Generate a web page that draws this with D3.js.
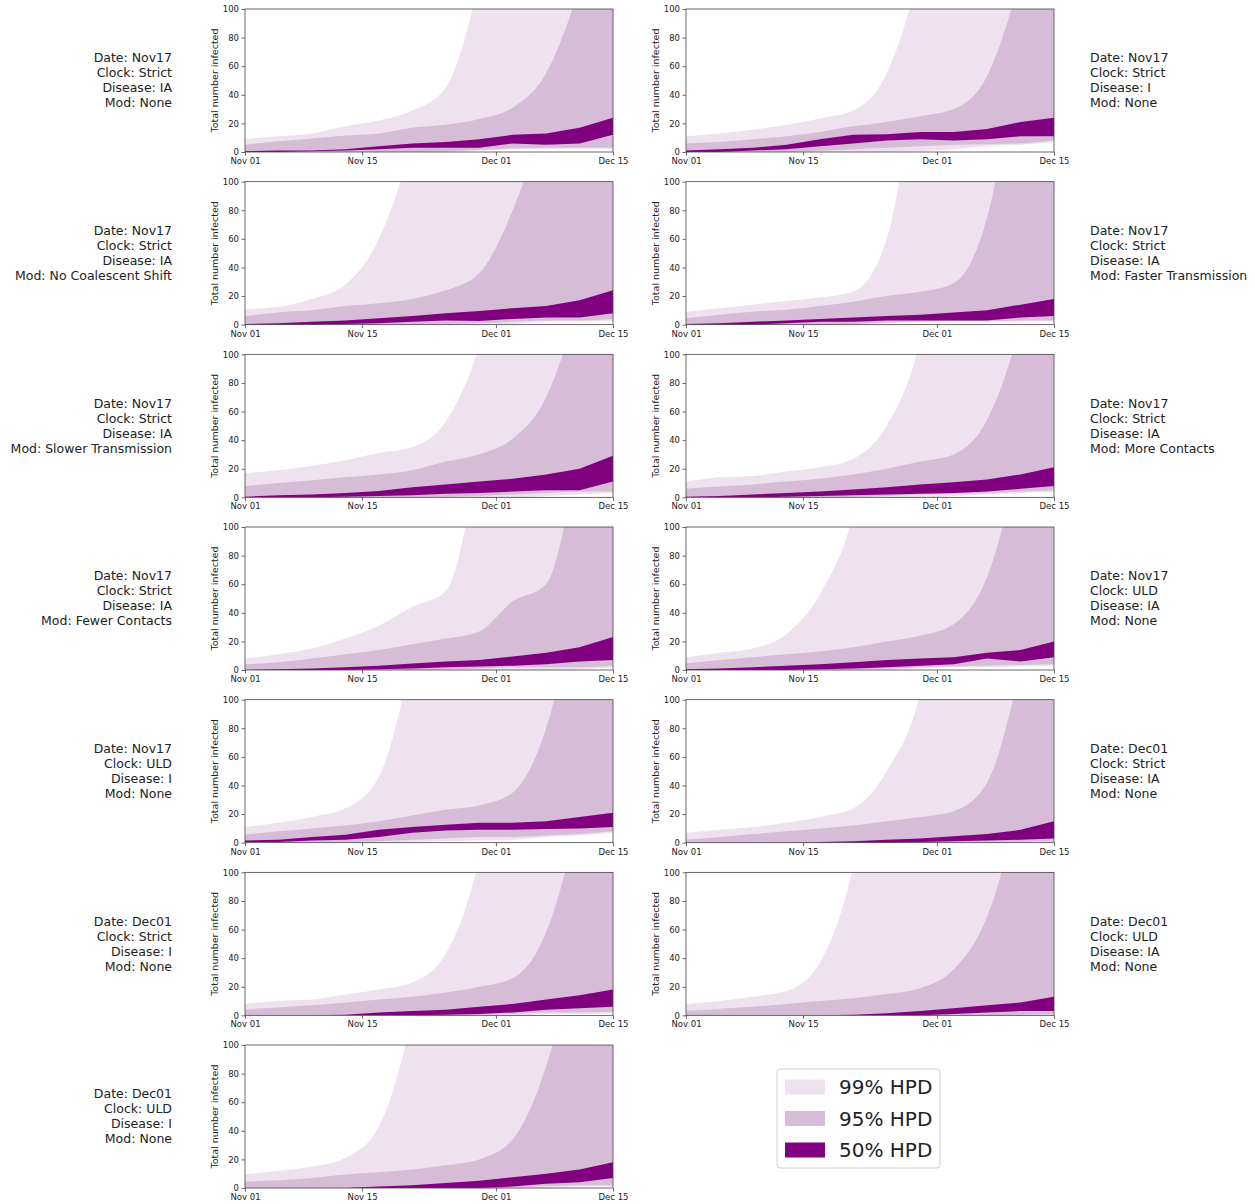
<!DOCTYPE html>
<html>
<head>
<meta charset="utf-8">
<script src="https://cdn.jsdelivr.net/npm/d3@7"></script>
<style>
  body { margin: 0; background: #fff; }
  svg text { font-family: "DejaVu Sans", sans-serif; fill: #222; }
  .tick text { font-size: 8.5px; }
</style>
</head>
<body>
<svg id="chart" width="1255" height="1204"></svg>
<script>
'use strict'

// sampled days since Nov 01 (every 4 days)
var days = [0, 4, 8, 12, 16, 20, 24, 28, 32, 36, 40, 44];
var dayTicks = [0, 14, 30, 44];
var dayTickLabels = ['Nov 01', 'Nov 15', 'Dec 01', 'Dec 15'];
var yTicks = [0, 20, 40, 60, 80, 100];

var panelLabels = [
  ['Date: Nov17', 'Clock: Strict', 'Disease: IA', 'Mod: None'],
  ['Date: Nov17', 'Clock: Strict', 'Disease: I', 'Mod: None'],
  ['Date: Nov17', 'Clock: Strict', 'Disease: IA', 'Mod: No Coalescent Shift'],
  ['Date: Nov17', 'Clock: Strict', 'Disease: IA', 'Mod: Faster Transmission'],
  ['Date: Nov17', 'Clock: Strict', 'Disease: IA', 'Mod: Slower Transmission'],
  ['Date: Nov17', 'Clock: Strict', 'Disease: IA', 'Mod: More Contacts'],
  ['Date: Nov17', 'Clock: Strict', 'Disease: IA', 'Mod: Fewer Contacts'],
  ['Date: Nov17', 'Clock: ULD', 'Disease: IA', 'Mod: None'],
  ['Date: Nov17', 'Clock: ULD', 'Disease: I', 'Mod: None'],
  ['Date: Dec01', 'Clock: Strict', 'Disease: IA', 'Mod: None'],
  ['Date: Dec01', 'Clock: Strict', 'Disease: I', 'Mod: None'],
  ['Date: Dec01', 'Clock: ULD', 'Disease: IA', 'Mod: None'],
  ['Date: Dec01', 'Clock: ULD', 'Disease: I', 'Mod: None']
];

var lower99 = [
  [0,0,0,0,0,0,0,1,2,2,2.5,2.5],
  [0,0,0,0,0,0,0,0.5,2,4,5,7],
  [0,0,0,0,0,0,0,0,0.5,2,2,2.5],
  [0,0,0,0,0,0,1,2,2,2,2,2.5],
  [0,0,0,0,0,0,0,0,0,1,2,3],
  [0,0,0,0,0,0,0,0,1,2,3,3.5],
  [0,0,0,0,0,0,0,0,0,0,0.5,2],
  [0,0,0,0,0,0,0,1,2,2,2.5,3],
  [0,0,0,0,0,0.5,1,1.5,2,4,5,7],
  [0,0,0,0,0,0,0,0,0,0,0,0.5],
  [0,0,0,0,0,0,0,0,0,1,1,1.5],
  [0,0,0,0,0,0,0,0,0,0,0,0],
  [0,0,0,0,0,0,0,0,0,0,1,1]
];
var upper99 = [
  [9,11,13,18,22,29,45,120,250,400,600,800],
  [11,13,15.5,19,23.5,29,55,130,260,400,600,800],
  [11,12.5,18,28,60,130,250,400,600,800,1000,1200],
  [9,11.5,14,16.5,19,23,60,200,400,600,800,1000],
  [17,19,22,26,31,35,53,105,200,350,500,700],
  [11,14,15,18,21,27,50,110,250,400,600,800],
  [8,11,15,22,31,44,55,150,300,500,700,900],
  [9,12,15,25,53,110,250,400,600,800,1000,1200],
  [11,14,18,24,46,130,250,400,600,800,1000,1200],
  [7,9,11,14,18,24,50,105,250,400,600,800],
  [8,10,11,14.5,18,23,43,110,250,400,600,800],
  [8,10,13,17,37,105,250,400,600,800,1000,1200],
  [9.5,12,15,21,43,120,250,400,600,800,1000,1200]
];
var lower95 = [
  [0,0,0,0,0,0,0.5,1.5,2.5,3,3,3],
  [0,0,0,0,1,2,3,4,5,5.5,6,8],
  [0,0,0,0,0,0,0.5,1,2,3,3,4],
  [0,0,0,0,0,0.5,1.5,2,2.5,2.5,3,3],
  [0,0,0,0,0,0,0.5,1,2,3,4,4],
  [0,0,0,0,0,0.5,1,2,2.5,3,4,5],
  [0,0,0,0,0,0,0.5,1,2,2,2,3],
  [0,0,0,0,0,0.5,1,2,2.5,3,3.5,4],
  [0,0,0,0.5,1,2,3,4,4,5,6,8],
  [0,0,0,0,0,0,0,0,0,0,0.5,1],
  [0,0,0,0,0,0,0,0.5,1,2,2,2.5],
  [0,0,0,0,0,0,0,0,0,0,0.5,1],
  [0,0,0,0,0,0,0,0,0.5,1.5,2,2]
];
var upper95 = [
  [5,7.5,9.5,11.5,13,17,19,23,31,55,115,200],
  [6,7,9,11,14,18,21,25,30,53,120,200],
  [6,8.5,10,13,15,18,24,36,80,150,250,350],
  [4.5,7,9,10.5,13,16,20,23,29,75,200,350],
  [8,10,12,14,16,19,25,30,41,70,140,250],
  [6,7.5,9,11,13,16,20,25,30,54,120,220],
  [4,5.5,8,11,14,18,22,27,48,60,150,250],
  [4.5,7,9,11,13,16,20,24,32,65,150,250],
  [5.5,8,10,12,15,19,23,26,35,80,180,300],
  [2,4,6,8,10,12,15,18,22,42,120,220],
  [4,5.5,7,9,11,13,16,20,26,58,140,250],
  [3,4.5,6,8,10,12,15,19,32,69,150,250],
  [4.5,5.5,7,9.5,11,13,16,20,34,85,180,300]
];
var lower50 = [
  [0,0,0.5,1,2,3,3,3,6,5,6,12],
  [0,0,1,2,4,6,8,9,8,9,11,11],
  [0,0,0,0.5,1,2,3,2.5,4,5,5,8],
  [0,0,0,1,2,2,3,3,3,3,5,6],
  [0,0,0,0.5,1,1.5,2.5,3,4,5,5,11],
  [0,0,0,0.5,1,1.5,2,2.5,3,4,6,8],
  [0,0,0,0,0.5,1,2,2.5,3,4,6,7],
  [0,0,0,0,0.5,1,2,3,4,8,6,9],
  [0.5,0.5,1.5,2,4,7,8.5,9,9,9.5,10,11],
  [0,0,0,0,0,0,0,0.5,1,1.5,2,3],
  [0,0,0,0,0,0,0.5,1,2,4,5,6],
  [0,0,0,0,0,0,0,0,1,2,3,3],
  [0,0,0,0,0,0,0,0,1,3,4,7]
];
var upper50 = [
  [0.5,1,1,2,4,6,7,9,12,13,17,24],
  [1,2,3,5,9,12,12.5,14,14,16,21,24],
  [0.5,1,2,3,4.5,6,8,9.5,11.5,13,17,24],
  [0.5,1,2,3,4,5,6,7,8.5,10,14,18],
  [0.5,1.5,2,3,4.5,7,9,11,13,16,20,29],
  [0.5,1,2,3,4,5.5,7,9,10.5,12.5,16,21],
  [0,0.5,1,2,3,4.5,6,7,9.5,12,16,23],
  [0.5,1,2,3,4,5.5,7,8,9,12,14,20],
  [1.5,2,4,5.5,9,11,12.5,14,14,15,18,21],
  [0,0,0,0,0.5,1,2,3,4.5,6,9,15],
  [0,0,0,0.5,2,3,4,6,8,11,14,18],
  [0,0,0,0,0,0.5,1.5,3,5,7,9,13],
  [0,0,0,0,1,2,3.5,5,7.5,10,13,18]
];

var bandNames = ['99% HPD', '95% HPD', '50% HPD'];
var bandColors = ['#ede2ed', '#d7bcd7', '#800080'];

var svg = d3.select('#chart');
var W = 368, H = 143;
var colX = [245, 686], top0 = 9, rowStep = 172.67;

var x = d3.scaleLinear().domain([0, 44]).range([0, W]);
var y = d3.scaleLinear().domain([0, 100]).range([H, 0]);

function band(lo, hi, curve){
  return d3.area()
    .x(function(d, i){ return x(days[i]); })
    .y0(function(d, i){ return y(lo[i]); })
    .y1(function(d, i){ return y(hi[i]); })
    .curve(curve)(days);
}

svg.append('defs').append('clipPath').attr('id', 'plotclip')
  .append('rect').attr('width', W).attr('height', H);

panelLabels.forEach(function(labels, p){
  var col = p % 2, row = Math.floor(p / 2);
  var g = svg.append('g').attr('transform', 'translate(' + colX[col] + ',' + (top0 + row * rowStep) + ')');
  var plot = g.append('g').attr('clip-path', 'url(#plotclip)');

  plot.append('path').attr('d', band(lower99[p], upper99[p], d3.curveMonotoneX)).attr('fill', bandColors[0]);
  plot.append('path').attr('d', band(lower95[p], upper95[p], d3.curveMonotoneX)).attr('fill', bandColors[1]);
  plot.append('path').attr('d', band(lower50[p], upper50[p], d3.curveLinear)).attr('fill', bandColors[2]);

  g.append('rect').attr('width', W).attr('height', H)
    .attr('fill', 'none').attr('stroke', '#444').attr('stroke-width', 0.8);

  var xa = g.append('g').attr('transform', 'translate(0,' + H + ')')
    .call(d3.axisBottom(x).tickValues(dayTicks).tickSize(3.5).tickPadding(2.5)
      .tickFormat(function(d, i){ return dayTickLabels[i]; }));
  var ya = g.append('g')
    .call(d3.axisLeft(y).tickValues(yTicks).tickSize(3.5).tickPadding(2.5));
  [xa, ya].forEach(function(a){
    a.select('.domain').remove();
    a.selectAll('.tick line').attr('stroke', '#444').attr('stroke-width', 0.8);
    a.selectAll('.tick text').attr('fill', '#222');
  });

  g.append('text')
    .attr('transform', 'translate(-30,' + (H / 2) + ') rotate(-90)')
    .attr('text-anchor', 'middle').attr('dy', '0.35em')
    .style('font-size', '9.5px')
    .text('Total number infected');

  // description block beside each panel
  var tx = col === 0 ? 172 - colX[0] : 1090 - colX[1];
  var txt = g.append('text')
    .attr('text-anchor', col === 0 ? 'end' : 'start')
    .style('font-size', '12.5px');
  labels.forEach(function(s, i){
    txt.append('tspan').attr('x', tx).attr('y', H / 2 - 22.5 + i * 15).attr('dy', '0.35em').text(s);
  });
});

// legend
var lg = svg.append('g').attr('transform', 'translate(777,1069)');
lg.append('rect').attr('width', 163).attr('height', 99).attr('rx', 3)
  .attr('fill', '#fff').attr('stroke', '#d0d0d0');
bandNames.forEach(function(name, i){
  var cy = 18 + i * 31.5;
  lg.append('rect').attr('x', 8).attr('y', cy - 7.5).attr('width', 40).attr('height', 15)
    .attr('fill', bandColors[i]);
  lg.append('text').attr('x', 62).attr('y', cy).attr('dy', '0.35em')
    .style('font-size', '20px').text(name);
});
</script>
</body>
</html>
